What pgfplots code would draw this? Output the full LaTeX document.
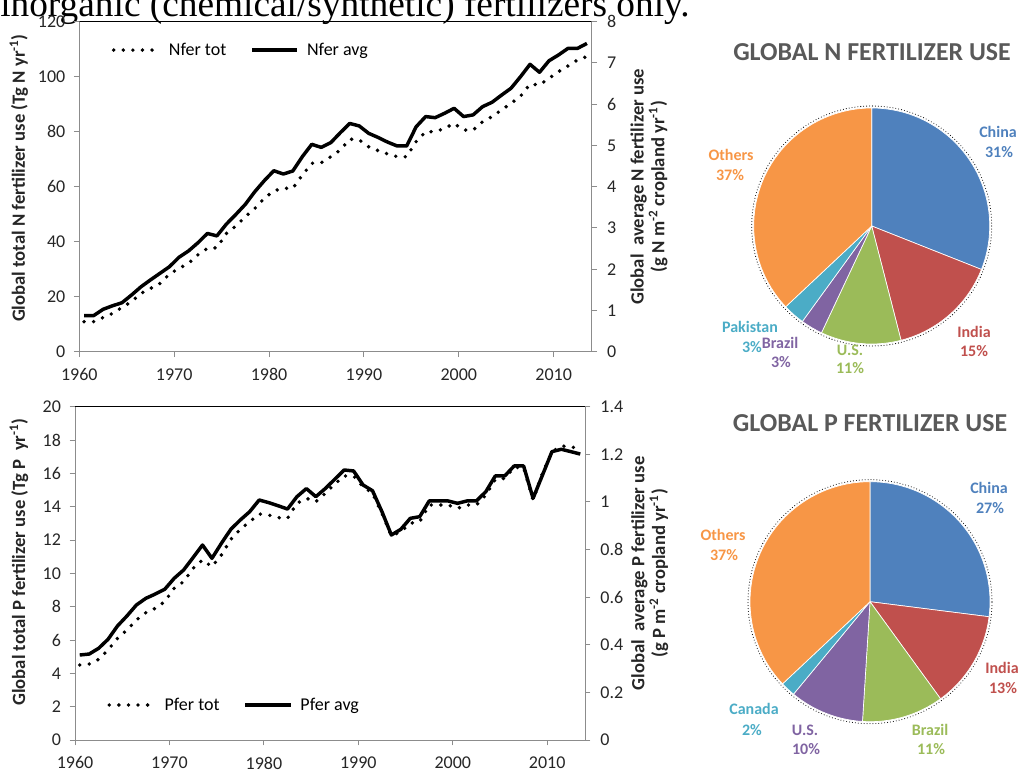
\documentclass[border=0pt]{standalone}
\usepackage{pgfplots}
\usepackage{pgfplotstable}
\pgfplotsset{compat=1.18}
\usepackage{fontspec}
\setmainfont{Carlito}
\newfontfamily\timesfont{Liberation Serif}

\definecolor{cBlue}{HTML}{4F81BD}
\definecolor{cRed}{HTML}{C0504D}
\definecolor{cGreen}{HTML}{9BBB59}
\definecolor{cPurple}{HTML}{8064A2}
\definecolor{cAqua}{HTML}{4BACC6}
\definecolor{cOrange}{HTML}{F79646}
\definecolor{axisgray}{HTML}{8C8C8C}
\definecolor{titlegray}{HTML}{595959}
\definecolor{ticktext}{HTML}{262626}

% Nitrogen: x, total (Tg N/yr), average (g N m-2 cropland yr-1)
\pgfplotstableread{
x tot avg
1960.5 10.9 0.873
1961.5 10.9 0.873
1962.5 12.4 1.027
1963.5 13.9 1.113
1964.5 16.1 1.187
1965.5 18.2 1.373
1966.5 21.2 1.573
1967.5 23.0 1.740
1968.5 24.8 1.900
1969.5 28.2 2.060
1970.5 30.3 2.287
1971.5 32.1 2.440
1972.5 35.2 2.640
1973.5 37.6 2.867
1974.5 37.8 2.807
1975.5 43.0 3.093
1976.5 45.7 3.327
1977.5 49.1 3.573
1978.5 52.1 3.880
1979.5 55.8 4.147
1980.5 58.5 4.387
1981.5 59.4 4.307
1982.5 59.4 4.380
1983.5 64.2 4.727
1984.5 68.5 5.027
1985.5 68.7 4.953
1986.5 70.9 5.067
1987.5 73.3 5.307
1988.5 77.3 5.533
1989.5 77.0 5.473
1990.5 74.5 5.293
1991.5 73.1 5.193
1992.5 71.9 5.080
1993.5 70.9 4.987
1994.5 70.9 4.987
1995.5 76.4 5.453
1996.5 80.0 5.700
1997.5 80.0 5.673
1998.5 81.2 5.780
1999.5 83.0 5.900
2000.5 80.6 5.700
2001.5 80.6 5.740
2002.5 83.6 5.940
2003.5 85.5 6.047
2004.5 87.9 6.220
2005.5 90.3 6.387
2006.5 92.9 6.667
2007.5 97.3 6.967
2008.5 97.0 6.773
2009.5 99.4 7.053
2010.5 101.8 7.193
2011.5 103.9 7.353
2012.5 106.1 7.353
2013.5 107.3 7.473
}\Ntable

% Phosphorus: x, total (Tg P/yr), average (g P m-2 cropland yr-1)
\pgfplotstableread{
x tot avg
1960.5 4.50 0.357
1961.5 4.56 0.361
1962.5 4.84 0.385
1963.5 5.40 0.423
1964.5 6.10 0.479
1965.5 6.60 0.521
1966.5 7.20 0.567
1967.5 7.64 0.595
1968.5 7.90 0.613
1969.5 8.30 0.633
1970.5 9.10 0.679
1971.5 9.50 0.714
1972.5 10.30 0.766
1973.5 10.80 0.819
1974.5 10.40 0.763
1975.5 11.10 0.826
1976.5 12.04 0.885
1977.5 12.64 0.924
1978.5 13.10 0.959
1979.5 13.56 1.008
1980.5 13.50 0.997
1981.5 13.34 0.984
1982.5 13.30 0.970
1983.5 14.20 1.022
1984.5 14.50 1.056
1985.5 14.30 1.022
1986.5 14.80 1.056
1987.5 15.36 1.095
1988.5 15.84 1.134
1989.5 15.84 1.130
1990.5 15.20 1.071
1991.5 14.80 1.047
1992.5 13.60 0.959
1993.5 12.24 0.861
1994.5 12.50 0.885
1995.5 13.00 0.931
1996.5 13.10 0.938
1997.5 14.10 1.004
1998.5 14.10 1.004
1999.5 14.10 1.004
2000.5 13.90 0.994
2001.5 14.10 1.004
2002.5 14.10 1.004
2003.5 14.70 1.043
2004.5 15.64 1.109
2005.5 15.70 1.109
2006.5 16.36 1.151
2007.5 16.36 1.151
2008.5 14.40 1.015
2009.5 16.00 1.113
2010.5 17.30 1.211
2011.5 17.64 1.221
2012.5 17.60 1.211
2013.5 17.44 1.201
}\Ptable

\tikzset{
  dotline/.style={black, line width=2.9pt, line cap=round, line join=round, dash pattern=on 0pt off 7.2pt},
  solidline/.style={black, line width=2.6pt, line join=round, line cap=butt},
}

\pgfplotsset{
  /pgf/number format/1000 sep={},
  base/.style={
    scale only axis, anchor=south west,
    xmin=1960, xmax=2014,
    axis line style={draw=axisgray, line width=0.7pt},
    tick style={draw=axisgray, line width=0.7pt},
    tick align=outside, major tick length=4pt,
    tick label style={font=\fontsize{13.5}{15}\selectfont, text=ticktext},
    /pgf/number format/assume math mode=true,
    label style={font=\bfseries\fontsize{14}{15.5}\selectfont, text=ticktext, align=center},
    legend image code/.code={\draw[##1] (0pt,0pt) -- (34pt,0pt); \path (38pt,0pt);},
  },
}

\begin{document}
\begin{tikzpicture}[x=0.75pt, y=0.75pt]
\path[use as bounding box] (0,0) rectangle (1020,774);

% cropped caption at the top
\begin{scope}
\clip (0,0) rectangle (1020,774);
\node[anchor=base west, inner sep=0pt, font=\timesfont\fontsize{28}{31}\selectfont] at (0,757) {inorganic (chemical/synthetic) fertilizers only.};
\end{scope}

% ---------------- N line chart ----------------
\begin{axis}[base, at={(59.475pt,316.725pt)}, width=384.3pt, height=247.5pt,
  ymin=0, ymax=120, ytick={0,20,...,120}, xtick={1960,1970,...,2010},
  axis x line*=bottom, axis y line*=left,
  yticklabel style={xshift=-3pt}, xticklabel style={yshift=-5pt},
  ylabel={Global total N fertilizer use (Tg N yr\textsuperscript{-1})},
  ylabel style={at={(axis description cs:-0.118,0.526)}, anchor=center},
  legend style={at={(axis description cs:0.055,0.914)}, anchor=west, draw=none, fill=none,
    legend columns=2, font=\fontsize{13.5}{15}\selectfont,
    /tikz/every even column/.append style={column sep=16pt}},
]
\draw[black, line width=0.9pt] (rel axis cs:0,1) -- (rel axis cs:1,1);
\addplot[dotline] table[x=x, y=tot] {\Ntable};
\addlegendentry{Nfer tot}
\addlegendimage{solidline}
\addlegendentry{Nfer avg}
\end{axis}
\begin{axis}[base, at={(59.475pt,316.725pt)}, width=384.3pt, height=247.5pt,
  ymin=0, ymax=8, ytick={0,1,...,8},
  axis y line*=right, axis x line=none,
  yticklabel style={xshift=4pt},
  ylabel={Global\ \ average N fertilizer use\\(g N m\textsuperscript{-2} cropland yr\textsuperscript{-1})},
  ylabel style={at={(axis description cs:1.112,0.5)}, anchor=center},
]
\addplot[solidline] table[x=x, y=avg] {\Ntable};
\end{axis}

% ---------------- P line chart ----------------
\begin{axis}[base, at={(56.25pt,25.5pt)}, width=382.5pt, height=250pt,
  ymin=0, ymax=20, ytick={0,2,...,20}, xtick={1960,1970,...,2010},
  axis x line*=bottom, axis y line*=left,
  yticklabel style={xshift=-3pt}, xticklabel style={yshift=-5pt},
  ylabel={Global total P fertilizer use (Tg P\ \ yr\textsuperscript{-1})},
  ylabel style={at={(axis description cs:-0.110,0.534)}, anchor=center},
  legend style={at={(axis description cs:0.055,0.105)}, anchor=west, draw=none, fill=none,
    legend columns=2, font=\fontsize{13.5}{15}\selectfont,
    /tikz/every even column/.append style={column sep=16pt}},
]
\draw[black, line width=0.9pt] (rel axis cs:0,1) -- (rel axis cs:1,1);
\addplot[dotline] table[x=x, y=tot] {\Ptable};
\addlegendentry{Pfer tot}
\addlegendimage{solidline}
\addlegendentry{Pfer avg}
\end{axis}
\begin{axis}[base, at={(56.25pt,25.5pt)}, width=382.5pt, height=250pt,
  ymin=0, ymax=1.4, ytick={0,0.2,...,1.4},
  axis y line*=right, axis x line=none,
  yticklabel style={xshift=4pt},
  ylabel={Global\ \ average P fertilizer use\\(g P m\textsuperscript{-2} cropland yr\textsuperscript{-1})},
  ylabel style={at={(axis description cs:1.127,0.5)}, anchor=center},
]
\addplot[solidline] table[x=x, y=avg] {\Ptable};
\end{axis}

% ---------------- N pie ----------------
\node[font=\bfseries\fontsize{19.4}{22}\selectfont, text=titlegray] at (872,722) {GLOBAL N FERTILIZER USE};
\draw[black, line width=0.8pt, dash pattern=on 0pt off 2.2pt, line cap=round] (871.7,548) circle[radius=120];
\foreach \p/\c [evaluate=\p as \e using {\s-3.6*\p}, remember=\e as \s (initially 90)] in
  {31/cBlue, 15/cRed, 11/cGreen, 3/cPurple, 3/cAqua, 37/cOrange}
  {\fill[\c, draw=white, line width=0.5pt] (871.7,548) -- ++(\s:118) arc[start angle=\s, end angle=\e, radius=118] -- cycle;}
\begin{scope}[every node/.style={font=\bfseries\fontsize{12}{14}\selectfont, inner sep=0pt}]
\node[text=cBlue] at (998,642) {China};
\node[text=cBlue] at (999,622) {31\%};
\node[text=cRed] at (974,442) {India};
\node[text=cRed] at (974,423) {15\%};
\node[text=cGreen] at (850,424) {U.S.};
\node[text=cGreen] at (850,406) {11\%};
\node[text=cPurple] at (780,431) {Brazil};
\node[text=cPurple] at (781,412) {3\%};
\node[text=cAqua] at (750,447) {Pakistan};
\node[text=cAqua] at (752,427) {3\%};
\node[text=cOrange] at (731,619) {Others};
\node[text=cOrange] at (730,599) {37\%};
\end{scope}

% ---------------- P pie ----------------
\node[font=\bfseries\fontsize{19.4}{22}\selectfont, text=titlegray] at (870,351) {GLOBAL P FERTILIZER USE};
\draw[black, line width=0.8pt, dash pattern=on 0pt off 2.2pt, line cap=round] (870,172.3) circle[radius=122];
\foreach \p/\c [evaluate=\p as \e using {\s-3.6*\p}, remember=\e as \s (initially 90)] in
  {27/cBlue, 13/cRed, 11/cGreen, 10/cPurple, 2/cAqua, 37/cOrange}
  {\fill[\c, draw=white, line width=0.5pt] (870,172.3) -- ++(\s:120) arc[start angle=\s, end angle=\e, radius=120] -- cycle;}
\begin{scope}[every node/.style={font=\bfseries\fontsize{12}{14}\selectfont, inner sep=0pt}]
\node[text=cBlue] at (989,286) {China};
\node[text=cBlue] at (990,266) {27\%};
\node[text=cRed] at (1002,106) {India};
\node[text=cRed] at (1003,86) {13\%};
\node[text=cGreen] at (930,44) {Brazil};
\node[text=cGreen] at (931,25) {11\%};
\node[text=cPurple] at (805,44) {U.S.};
\node[text=cPurple] at (806,25) {10\%};
\node[text=cAqua] at (754,65) {Canada};
\node[text=cAqua] at (752,44) {2\%};
\node[text=cOrange] at (723,239) {Others};
\node[text=cOrange] at (724,219) {37\%};
\end{scope}
\end{tikzpicture}
\end{document}
